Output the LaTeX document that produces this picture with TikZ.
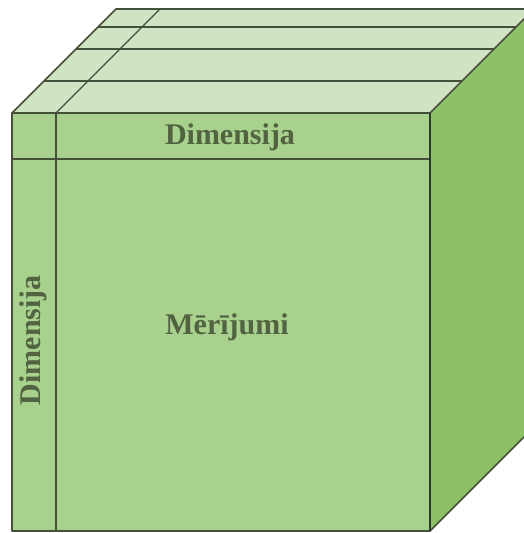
\documentclass[tikz,border=0pt]{standalone}
\usepackage{fontspec}
\setmainfont{Liberation Serif}
\usetikzlibrary{calc}
\definecolor{frontc}{HTML}{A9D18E}
\definecolor{topc}{HTML}{D0E3C2}
\definecolor{sidec}{HTML}{8CC168}
\definecolor{edgec}{HTML}{44503A}
\definecolor{textc}{HTML}{516341}
\tikzset{
  outline/.style={draw=edgec, line width=1.6pt, line join=round},
  inner/.style={draw=edgec, line width=1.2pt},
  lbl/.style={text=textc, font=\bfseries\fontsize{30}{32}\selectfont, inner sep=0pt}
}
\begin{document}
\begin{tikzpicture}[x=1pt,y=-1pt]
\useasboundingbox (0,0) rectangle (524,533);
\begin{scope}
\clip (0,0) rectangle (524,533);
% coordinates
\coordinate (FTL) at (12,113);
\coordinate (FTR) at (430,113);
\coordinate (FBR) at (430,531);
\coordinate (FBL) at (12,531);
\coordinate (BTL) at (116,9);
\coordinate (BTR) at (534,9);
\coordinate (BBR) at (534,427);
% right face
\fill[sidec] (FTR) -- (BTR) -- (BBR) -- (FBR) -- cycle;
\draw[outline] (FBR) -- (BBR);
% top face
\fill[topc] (FTL) -- (BTL) -- (BTR) -- (FTR) -- cycle;
\foreach \d in {32,64,86} {
  \draw[inner] ($(FTL)+(\d,-\d)$) -- ($(FTR)+(\d,-\d)$);
}
\draw[inner] (56,113) -- (160,9);
\draw[outline] (FTL) -- (BTL) -- (BTR);
\draw[outline] (FTR) -- (BTR);
% front face
\fill[frontc] (FTL) rectangle (FBR);
\draw[inner] (56,113) -- (56,531);
\draw[inner] (12,159) -- (430,159);
\draw[outline] (FTL) rectangle (FBR);
\draw[draw=edgec!70!black, line width=2.2pt] (FTR) -- (FBR);
\end{scope}
% labels
\node[lbl] (dimtop) at (230,137) {Dimensija};
\node[lbl] (meas) at (227,327) {Mērījumi};
\node[lbl, rotate=90] (dimleft) at (33,340) {Dimensija};
\end{tikzpicture}
\end{document}
